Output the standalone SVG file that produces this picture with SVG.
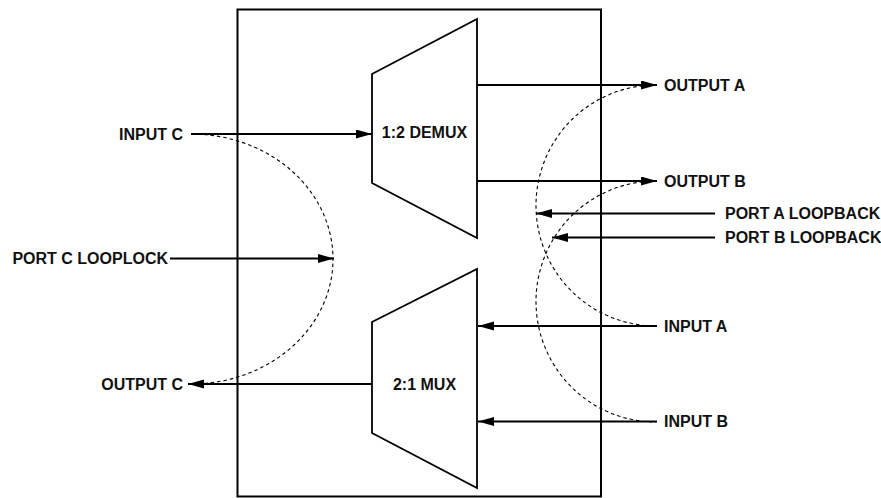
<svg xmlns="http://www.w3.org/2000/svg" width="881" height="498" viewBox="0 0 881 498">
<style>
.box{fill:none;stroke:#000;stroke-width:2}
.blk{fill:#fff;stroke:#000;stroke-width:1.8}
.ln{fill:none;stroke:#000;stroke-width:2}
.ds{fill:none;stroke:#000;stroke-width:1.1;stroke-dasharray:3.5 3}
text{font-family:"Liberation Sans",Arial,sans-serif;font-weight:bold;font-size:16px;fill:#111}
.e{text-anchor:end}
.m{text-anchor:middle}
</style>
<defs>
<marker id="ah" markerUnits="userSpaceOnUse" markerWidth="17" markerHeight="10" refX="16" refY="4.5" orient="auto">
<path d="M0,0 L16,4.5 L0,9 z" fill="#000"/>
</marker>
</defs>
<rect id="chip" class="box" x="237.5" y="9.5" width="363.5" height="487"/>
<g id="demux">
<polygon class="blk" points="372,74 477,19 477,238 372,183"/>
<text class="m" x="424.5" y="137.5">1:2 DEMUX</text>
</g>
<g id="mux">
<polygon class="blk" points="372,322 477,269 477,488 372,433"/>
<text class="m" x="424.5" y="389.5">2:1 MUX</text>
</g>
<g id="connectors">
<path class="ds" d="M191,134 A142,125 0 0 1 191,384"/>
<path class="ds" d="M656,85 A120,120.5 0 0 0 656,326"/>
<path class="ds" d="M656,181 A120,120.5 0 0 0 656,422"/>
<line class="ln" x1="191" y1="134" x2="372" y2="134" marker-end="url(#ah)"/>
<line class="ln" x1="170" y1="258.5" x2="334" y2="258.5" marker-end="url(#ah)"/>
<line class="ln" x1="372" y1="384" x2="188" y2="384" marker-end="url(#ah)"/>
<line class="ln" x1="477" y1="85" x2="657" y2="85" marker-end="url(#ah)"/>
<line class="ln" x1="477" y1="181" x2="657" y2="181" marker-end="url(#ah)"/>
<line class="ln" x1="715" y1="213.5" x2="536" y2="213.5" marker-end="url(#ah)"/>
<line class="ln" x1="715" y1="237.5" x2="552" y2="237.5" marker-end="url(#ah)"/>
<line class="ln" x1="657" y1="326" x2="478" y2="326" marker-end="url(#ah)"/>
<line class="ln" x1="657" y1="421.5" x2="478" y2="421.5" marker-end="url(#ah)"/>
</g>
<g id="lbl-input-c"><text class="e" x="183" y="139.5">INPUT C</text></g>
<g id="lbl-port-c"><text class="e" x="168" y="264">PORT C LOOPLOCK</text></g>
<g id="lbl-output-c"><text class="e" x="183" y="389.5">OUTPUT C</text></g>
<g id="lbl-output-a"><text x="664" y="90.5">OUTPUT A</text></g>
<g id="lbl-output-b"><text x="664" y="186.5">OUTPUT B</text></g>
<g id="lbl-port-a"><text x="725" y="219">PORT A LOOPBACK</text></g>
<g id="lbl-port-b"><text x="725" y="243">PORT B LOOPBACK</text></g>
<g id="lbl-input-a"><text x="664" y="331.5">INPUT A</text></g>
<g id="lbl-input-b"><text x="664" y="427">INPUT B</text></g>
</svg>
